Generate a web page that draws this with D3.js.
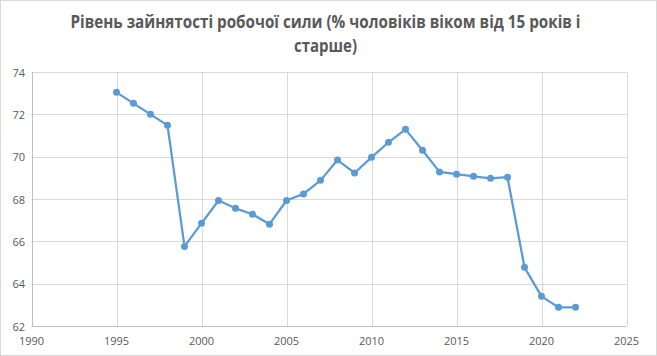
<!DOCTYPE html>
<html><head><meta charset="utf-8">
<script src="https://cdn.jsdelivr.net/npm/d3@7"></script>
<style>body{margin:0;background:#fff}svg{display:block}</style>
</head><body>
<script>
const years = [1995,1996,1997,1998,1999,2000,2001,2002,2003,2004,2005,2006,2007,2008,2009,2010,2011,2012,2013,2014,2015,2016,2017,2018,2019,2020,2021,2022];
const values = [73.04,72.52,72.0,71.48,65.76,66.85,67.93,67.56,67.28,66.81,67.93,68.24,68.88,69.84,69.23,69.97,70.68,71.29,70.3,69.28,69.17,69.07,68.98,69.03,64.77,63.4,62.88,62.88];
const xTicks = [1990,1995,2000,2005,2010,2015,2020,2025];
const yTicks = [62,64,66,68,70,72,74];
const titleLines = ["Рівень зайнятості робочої сили (% чоловіків віком від 15 років і", "старше)"];

const W=657,H=356;
const svg=d3.select("body").append("svg").attr("width",W).attr("height",H);
svg.append("rect").attr("x",0.5).attr("y",0.5).attr("width",W-1).attr("height",H-1).attr("fill","#fff").attr("stroke","#d9d9d9");
const x=d3.scaleLinear().domain([1990,2025]).range([31.5,626.5]);
const y=d3.scaleLinear().domain([62,74]).range([326,72]);
const font="Open Sans, sans-serif";
const g=svg.append("g");
g.selectAll(".hg").data(yTicks.filter(d=>d>62)).enter().append("line")
 .attr("x1",x(1990)).attr("x2",x(2025)).attr("y1",d=>Math.round(y(d))+0.5).attr("y2",d=>Math.round(y(d))+0.5)
 .attr("stroke","#d9d9d9").attr("stroke-width",1);
g.selectAll(".vg").data(xTicks.filter(d=>d>1990)).enter().append("line")
 .attr("x1",d=>Math.round(x(d))+0.5).attr("x2",d=>Math.round(x(d))+0.5).attr("y1",y(74)).attr("y2",y(62))
 .attr("stroke","#d9d9d9").attr("stroke-width",1);
g.append("line").attr("x1",x(1990)).attr("x2",x(2025)).attr("y1",Math.round(y(62))+0.5).attr("y2",Math.round(y(62))+0.5).attr("stroke","#bfbfbf");
g.append("line").attr("x1",Math.round(x(1990))+0.5).attr("x2",Math.round(x(1990))+0.5).attr("y1",y(74)).attr("y2",y(62)).attr("stroke","#bfbfbf");
g.selectAll(".yl").data(yTicks).enter().append("text")
 .attr("x",25).attr("y",d=>y(d)+4.5).attr("text-anchor","end")
 .attr("font-family",font).attr("font-size",11).attr("fill","#595959").text(d=>d);
g.selectAll(".xl").data(xTicks).enter().append("text")
 .attr("x",d=>x(d)).attr("y",345).attr("text-anchor","middle")
 .attr("font-family",font).attr("font-size",11).attr("fill","#595959").text(d=>d);
const data=years.map((yr,i)=>({yr,v:values[i]}));
g.append("path").datum(data).attr("fill","none").attr("stroke","#5b9bd5").attr("stroke-width",2.25)
 .attr("stroke-linejoin","round")
 .attr("d",d3.line().x(d=>x(d.yr)).y(d=>y(d.v)));
g.selectAll(".pt").data(data).enter().append("circle")
 .attr("cx",d=>x(d.yr)).attr("cy",d=>y(d.v)).attr("r",3.5).attr("fill","#5b9bd5");
const tl=[510,63];
svg.selectAll(".tt").data(titleLines).enter().append("text")
 .attr("x",W/2-3).attr("y",(d,i)=>28+i*24).attr("text-anchor","middle")
 .attr("textLength",(d,i)=>tl[i]).attr("lengthAdjust","spacingAndGlyphs")
 .attr("font-family",font).attr("font-weight","bold").attr("font-size",17).attr("fill","#595959").text(d=>d);
</script>
</body></html>
